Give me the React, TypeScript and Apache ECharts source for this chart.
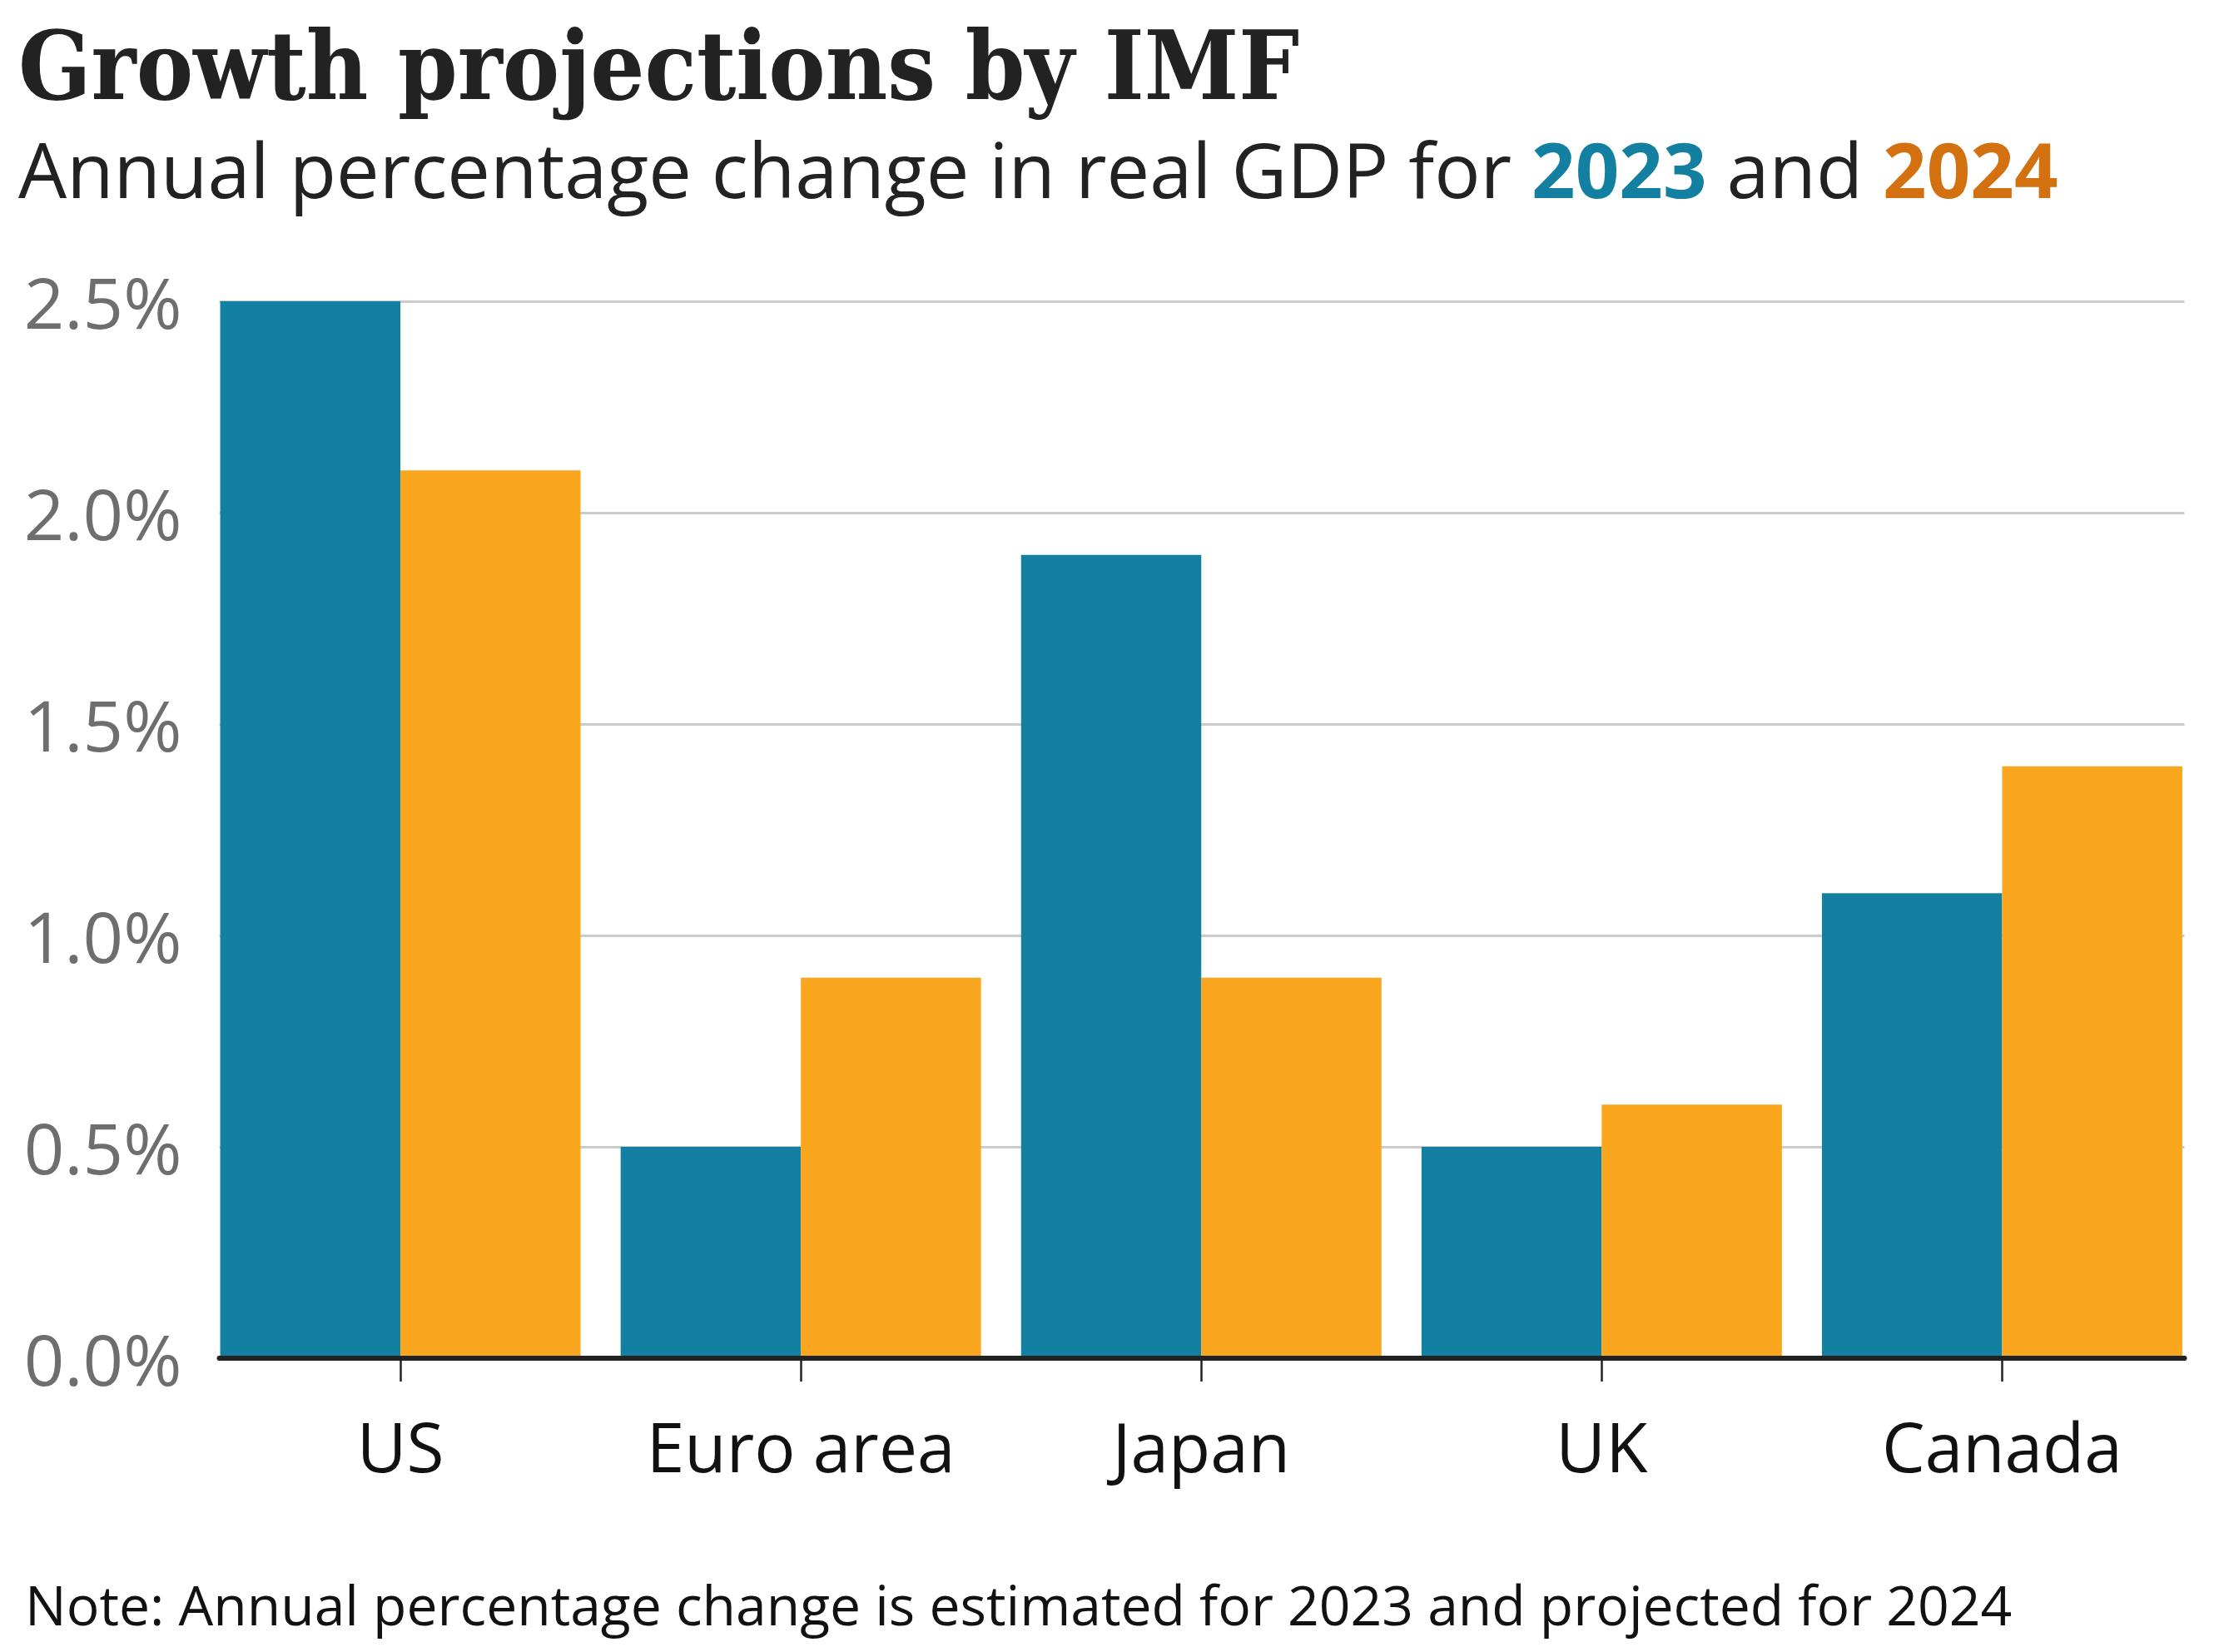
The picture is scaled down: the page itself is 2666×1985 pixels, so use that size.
import React, { useEffect, useRef } from "react";
import * as echarts from "echarts";

const categories = ["US", "Euro area", "Japan", "UK", "Canada"];
const values2023 = [2.5, 0.5, 1.9, 0.5, 1.1];
const values2024 = [2.1, 0.9, 0.9, 0.6, 1.4];
const yMin = 0;
const yMax = 2.5;
const yInterval = 0.5;

const titleText = "Growth projections by IMF";
const subtitleText = "Annual percentage change in real GDP for {a|2023} and {b|2024}";
const noteText = "Note: Annual percentage change is estimated for 2023 and projected for 2024";

const TEAL = "#1380A1";
const ORANGE = "#FAA61F";
const TEAL_TEXT = "#1380A1";
const ORANGE_TEXT = "#D3700F";

const W = 2666;
const H = 1985;

export default function App() {
  const ref = useRef<HTMLDivElement>(null);
  useEffect(() => {
    document.body.style.margin = "0";
    if (!ref.current) return;
    const chart = echarts.init(ref.current, null, { renderer: "svg" });
    const plotTop = 362;
    const plotHeight = 1270;
    chart.setOption({
      animation: false,
      backgroundColor: "#ffffff",
      grid: [
        { left: 240.5, right: 20, top: plotTop, height: plotHeight },
        { left: 263.5, right: 41.5, top: plotTop, height: plotHeight },
      ],
      xAxis: [
        {
          type: "category",
          gridIndex: 0,
          data: categories,
          axisLine: { show: false },
          axisTick: {
            show: true,
            alignWithLabel: true,
            interval: 0,
            length: 28,
            lineStyle: { color: "#222222", width: 2.5 },
          },
          axisLabel: {
            interval: 0,
            fontSize: 82,
            color: "#111111",
            fontFamily: "Open Sans",
            margin: 64,
          },
          splitLine: { show: false },
        },
        {
          type: "value",
          gridIndex: 1,
          min: 0,
          max: 1,
          z: 5,
          axisLine: { show: true, lineStyle: { color: "#222222", width: 6 } },
          axisTick: { show: false },
          axisLabel: { show: false },
          splitLine: { show: false },
        },
      ],
      yAxis: [
        {
          type: "value",
          gridIndex: 0,
          min: yMin,
          max: yMax,
          interval: yInterval,
          show: false,
          splitLine: { show: false },
        },
        {
          type: "value",
          gridIndex: 1,
          min: yMin,
          max: yMax,
          interval: yInterval,
          axisLine: { show: false },
          axisTick: { show: false },
          splitLine: { show: true, lineStyle: { color: "#cccccc", width: 3 } },
          axisLabel: {
            formatter: (v: number) => v.toFixed(1) + "%",
            fontSize: 85,
            color: "#6e6e6e",
            fontFamily: "Open Sans",
            margin: 45,
          },
        },
      ],
      series: [
        {
          name: "2023",
          type: "bar",
          xAxisIndex: 0,
          yAxisIndex: 0,
          data: values2023,
          itemStyle: { color: TEAL },
          barGap: "0%",
          barCategoryGap: "10%",
        },
        {
          name: "2024",
          type: "bar",
          xAxisIndex: 0,
          yAxisIndex: 0,
          data: values2024,
          itemStyle: { color: ORANGE },
          barGap: "0%",
          barCategoryGap: "10%",
        },
      ],
      graphic: [
        {
          type: "text",
          left: 22,
          top: 22,
          style: {
            text: titleText,
            fontSize: 114,
            fontWeight: "bold",
            fontFamily: '"DejaVu Serif Condensed", "DejaVu Serif"',
            fill: "#222222",
          },
        },
        {
          type: "text",
          left: 22,
          top: 156,
          style: {
            text: subtitleText,
            fontSize: 92,
            fontFamily: "Open Sans",
            fill: "#222222",
            rich: {
              a: { fontSize: 92, fontFamily: "Open Sans", fontWeight: "bold", fill: TEAL_TEXT, color: TEAL_TEXT },
              b: { fontSize: 92, fontFamily: "Open Sans", fontWeight: "bold", fill: ORANGE_TEXT, color: ORANGE_TEXT },
            },
          },
        },
        {
          type: "text",
          left: 30,
          top: 1894,
          style: {
            text: noteText,
            fontSize: 66,
            fontFamily: "Open Sans",
            fill: "#111111",
          },
        },
      ],
    });
    return () => chart.dispose();
  }, []);
  return <div ref={ref} style={{ width: W, height: H }} />;
}
